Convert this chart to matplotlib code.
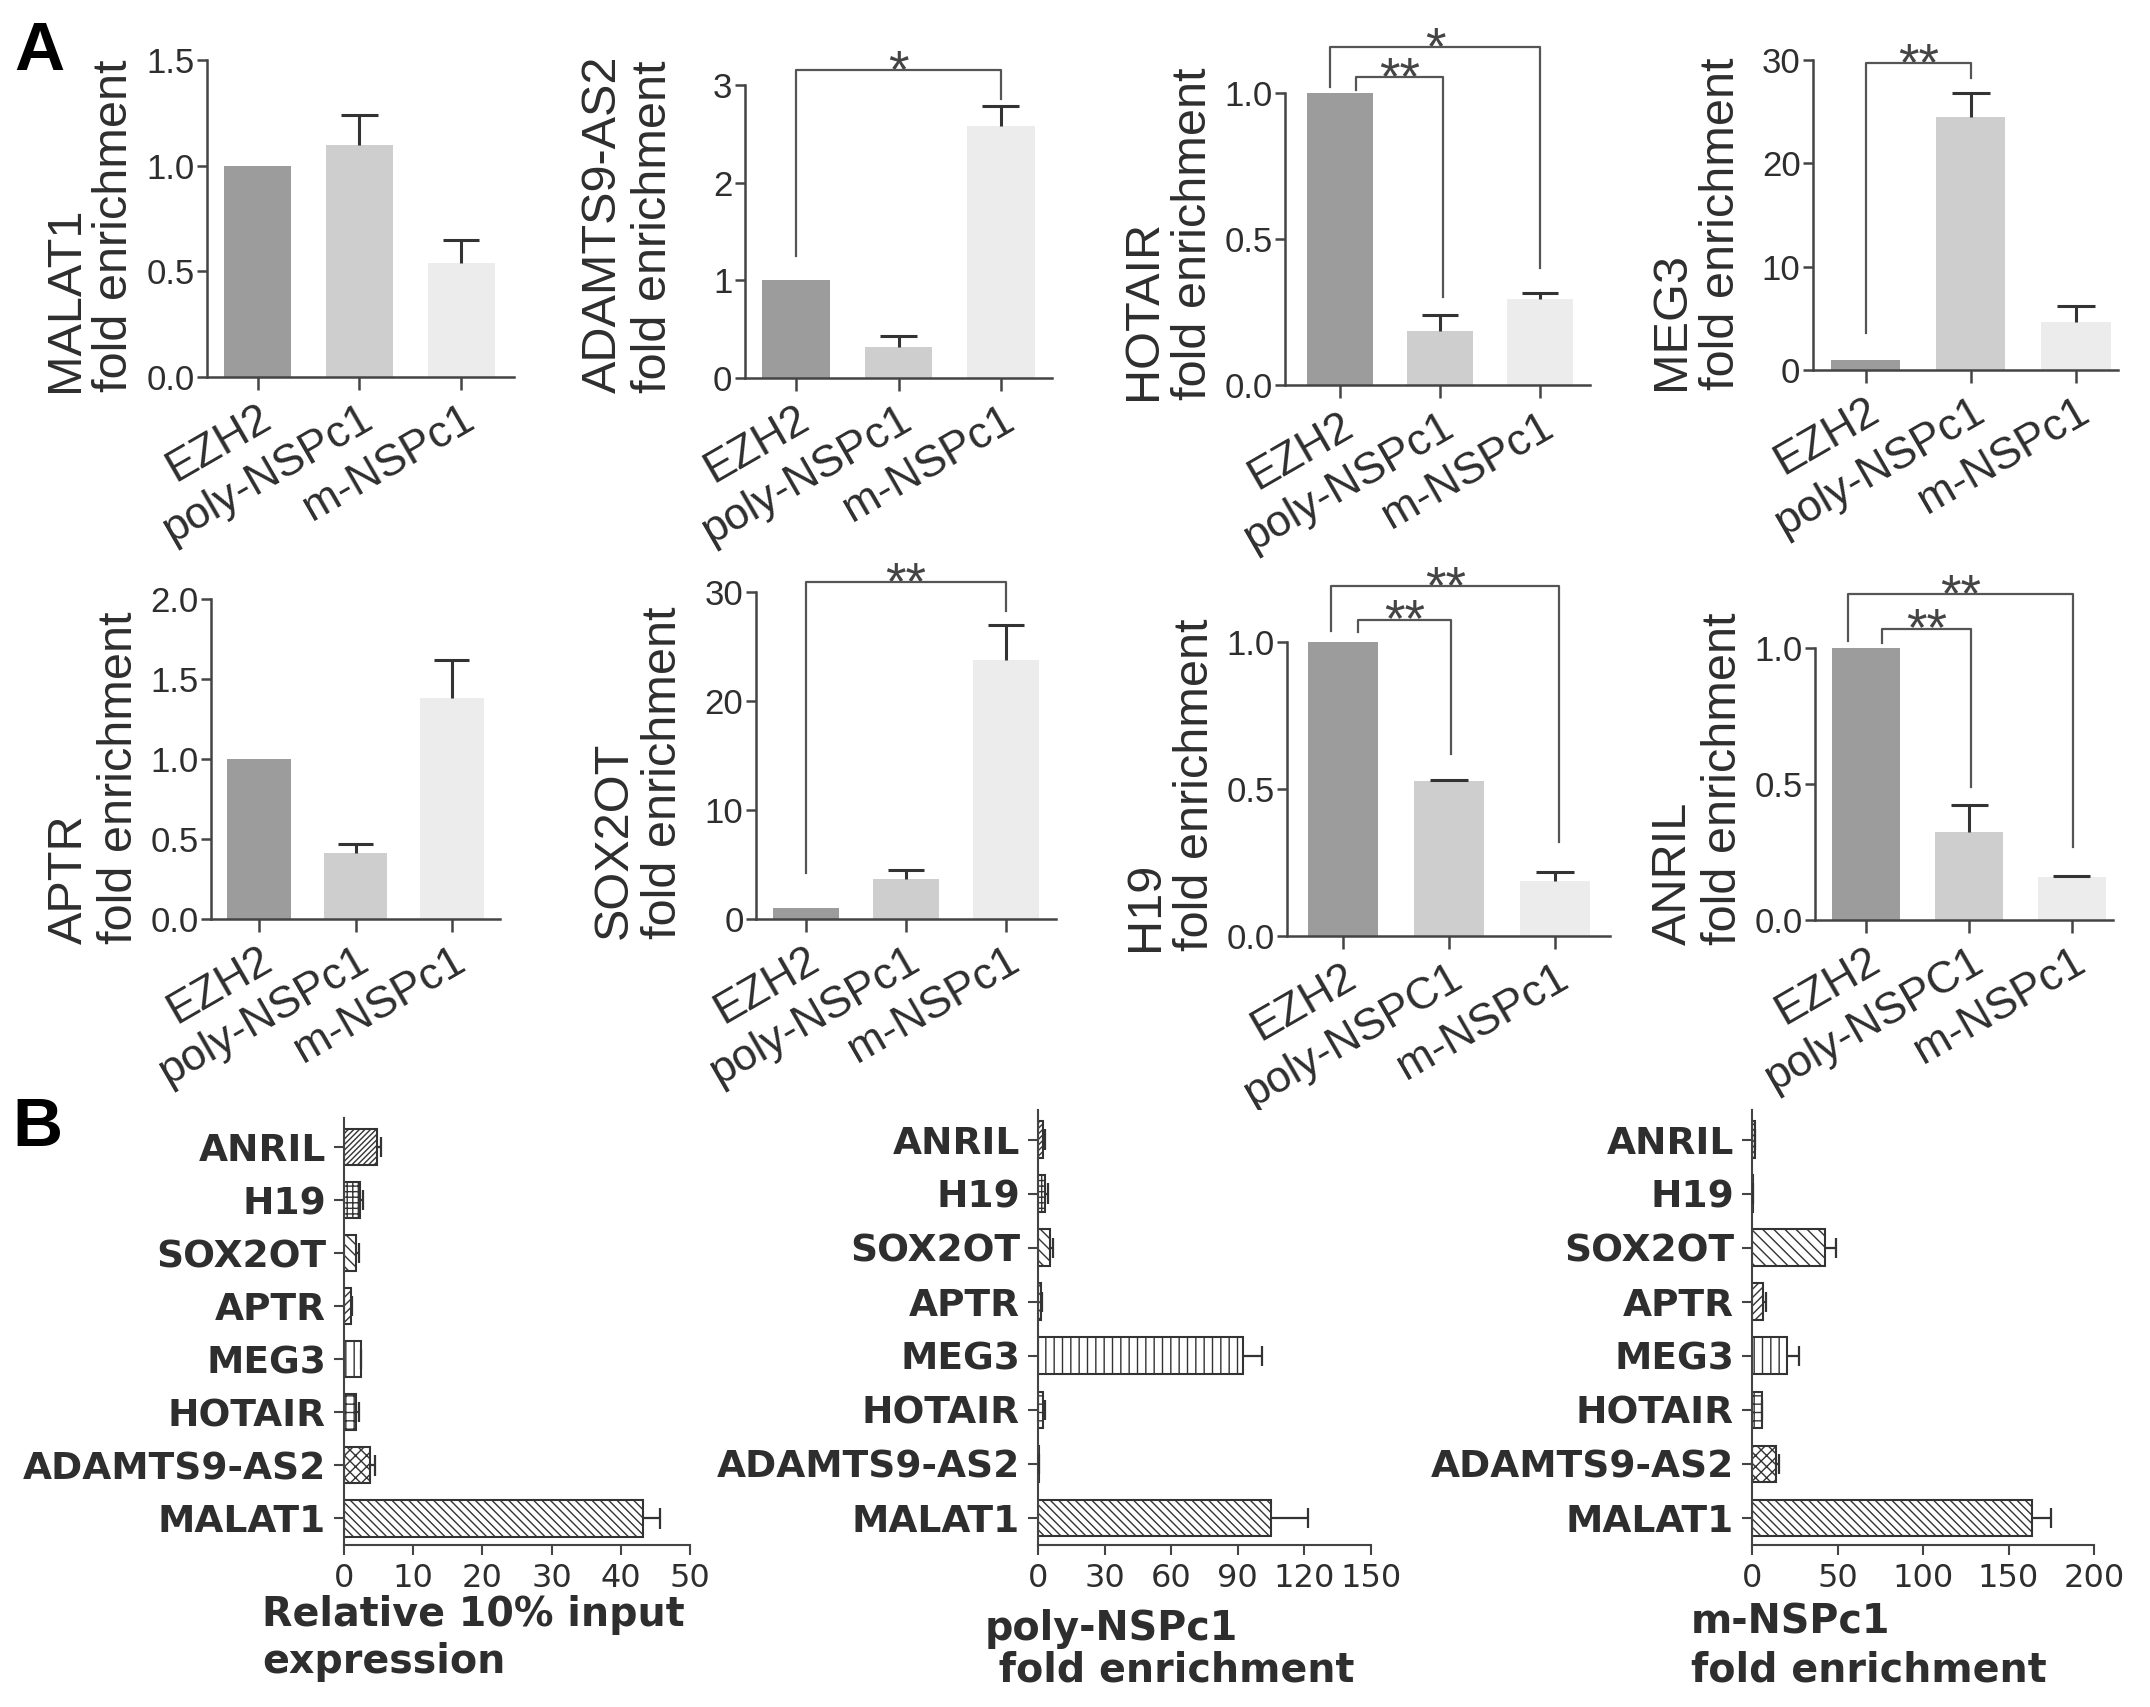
import matplotlib as mpl
mpl.use('Agg')
import matplotlib.pyplot as plt
import numpy as np

plt.rcParams['font.family'] = ['Liberation Sans', 'DejaVu Sans']
plt.rcParams['hatch.color'] = '#333333'
plt.rcParams['hatch.linewidth'] = 1.0

W, H = 2150, 1707
INK = '#2e2e2e'

# ---- panel A data ----
groups = ['EZH2', 'poly-NSPc1', 'm-NSPc1']
groups_cap = ['EZH2', 'poly-NSPC1', 'm-NSPc1']
bar_colors = ['#9c9c9c', '#cecece', '#ececec']

malat1 = [1.0, 1.10, 0.54]
malat1_err = [0.0, 0.14, 0.11]
adamts = [1.0, 0.32, 2.58]
adamts_err = [0.0, 0.11, 0.20]
hotair = [1.0, 0.185, 0.296]
hotair_err = [0.0, 0.055, 0.019]
meg3 = [1.0, 24.5, 4.6]
meg3_err = [0.0, 2.3, 1.6]
aptr = [1.0, 0.41, 1.38]
aptr_err = [0.0, 0.06, 0.24]
sox2ot = [1.0, 3.7, 23.8]
sox2ot_err = [0.0, 0.8, 3.2]
h19 = [1.0, 0.527, 0.187]
h19_err = [0.0, 0.005, 0.032]
anril = [1.0, 0.325, 0.157]
anril_err = [0.0, 0.098, 0.003]

# significance brackets: (x left, x right, top, left end, right end, stars)
adamts_sig = [(0.0, 2.0, 3.15, 1.25, 2.86, '*')]
hotair_sig = [(0.16, 1.03, 1.055, 1.01, 0.30, '**'), (-0.1, 2.0, 1.156, 1.02, 0.40, '*')]
meg3_sig = [(0.0, 1.0, 29.7, 3.6, 28.3, '**')]
sox2ot_sig = [(0.0, 2.0, 30.9, 4.2, 28.3, '**')]
h19_sig = [(0.14, 1.02, 1.076, 1.034, 0.62, '**'), (-0.11, 2.04, 1.19, 1.037, 0.32, '**')]
anril_sig = [(0.15, 1.02, 1.071, 1.018, 0.49, '**'), (-0.18, 2.01, 1.198, 1.024, 0.27, '**')]

# ---- panel B data ----
genes = ['MALAT1', 'ADAMTS9-AS2', 'HOTAIR', 'MEG3', 'APTR', 'SOX2OT', 'H19', 'ANRIL']
hatches = ['\\\\\\\\', 'xxx', '++', '||', '////', '\\\\\\', '+++', '//////']
input_expr = [43.2, 3.7, 1.7, 2.5, 1.0, 1.7, 2.3, 4.8]
input_err = [2.5, 0.8, 0.4, 0.0, 0.1, 0.4, 0.4, 0.5]
poly_fold = [104.9, 0.4, 2.4, 92.5, 1.2, 5.5, 3.3, 2.4]
poly_err = [16.7, 0.1, 0.7, 8.5, 0.4, 1.4, 1.4, 0.9]
m_fold = [163.7, 14.0, 5.6, 20.4, 6.6, 42.9, 0.3, 1.9]
m_err = [11.1, 1.9, 0.5, 6.9, 1.3, 6.1, 0.0, 0.1]

fig = plt.figure(figsize=(W / 100, H / 100), dpi=100)


def px_axes(l, t, r, b):
    return fig.add_axes([l / W, 1 - b / H, (r - l) / W, (b - t) / H])


def style_axes(ax, lw=1.8):
    for s in ['top', 'right']:
        ax.spines[s].set_visible(False)
    for s in ['left', 'bottom']:
        ax.spines[s].set_linewidth(lw)
        ax.spines[s].set_color('#444444')


def bar_panel(box, gene, vals, errs, yticks, ylabels, xlim, labels, sig, lab_drop):
    l, t, r, b = box
    ax = px_axes(l, t, r, b)
    x = np.arange(len(vals))
    ax.bar(x, vals, width=0.66, color=bar_colors, zorder=2)
    # one-sided error bars (upper only), EZH2 is the reference without error
    tops = np.array(vals[1:]) + np.array(errs[1:])
    ax.vlines(x[1:], vals[1:], tops, color='#333333', lw=2.2, zorder=3)
    ax.hlines(tops, x[1:] - 0.18, x[1:] + 0.18, color='#333333', lw=2.2, zorder=3)
    ax.set_xlim(*xlim)
    ax.set_ylim(yticks[0], yticks[-1])
    ax.set_yticks(yticks)
    ax.set_yticklabels(ylabels, fontsize=25, color=INK)
    ax.set_xticks(x)
    ax.set_xticklabels(labels, rotation=30, ha='right', rotation_mode='anchor',
                       fontsize=32, color=INK)
    ax.tick_params(axis='y', length=7, width=1.8, color='#444444', pad=2)
    ax.tick_params(axis='x', length=9, width=1.8, color='#444444', pad=6)
    style_axes(ax)
    for x0, x1, ytop, y0, y1, stars in sig:
        ax.plot([x0, x0, x1, x1], [y0, ytop, ytop, y1], color='#555555', lw=1.6,
                clip_on=False, zorder=4)
        ax.annotate(stars, xy=((x0 + x1) / 2, ytop), xytext=(0, -12),
                    textcoords='offset points', ha='center', va='baseline',
                    fontsize=38, color='#444444', annotation_clip=False)
    # two-line y label, drawn as separate lines
    yb = 1 - (b + lab_drop) / H
    fig.text((l - 142) / W, yb, gene, rotation=90, ha='center', va='bottom',
             fontsize=35, color=INK)
    fig.text((l - 92) / W, yb, 'fold enrichment', rotation=90, ha='center',
             va='bottom', fontsize=35, color=INK)
    return ax


bar_panel((207, 60, 514, 377), 'MALAT1', malat1, malat1_err, [0, 0.5, 1.0, 1.5],
          ['0.0', '0.5', '1.0', '1.5'], (-0.5, 2.52), groups, [], 15)
bar_panel((745, 85, 1052, 378), 'ADAMTS9-AS2', adamts, adamts_err, [0, 1, 2, 3],
          ['0', '1', '2', '3'], (-0.5, 2.5), groups, adamts_sig, 15)
bar_panel((1285, 93, 1590, 385), 'HOTAIR', hotair, hotair_err, [0, 0.5, 1.0],
          ['0.0', '0.5', '1.0'], (-0.55, 2.5), groups, hotair_sig, 15)
bar_panel((1813, 60, 2118, 370), 'MEG3', meg3, meg3_err, [0, 10, 20, 30],
          ['0', '10', '20', '30'], (-0.5, 2.4), groups, meg3_sig, 20)
bar_panel((211, 599, 500, 919), 'APTR', aptr, aptr_err, [0, 0.5, 1.0, 1.5, 2.0],
          ['0.0', '0.5', '1.0', '1.5', '2.0'], (-0.5, 2.5), groups, [], 25)
bar_panel((756, 592, 1056, 919), 'SOX2OT', sox2ot, sox2ot_err, [0, 10, 20, 30],
          ['0', '10', '20', '30'], (-0.5, 2.5), groups, sox2ot_sig, 20)
bar_panel((1287, 642, 1610, 936), 'H19', h19, h19_err, [0, 0.5, 1.0],
          ['0.0', '0.5', '1.0'], (-0.53, 2.52), groups_cap, h19_sig, 15)
bar_panel((1815, 648, 2113, 920), 'ANRIL', anril, anril_err, [0, 0.5, 1.0],
          ['0.0', '0.5', '1.0'], (-0.5, 2.4), groups_cap, anril_sig, 25)


def hbar_panel(box, vals, errs, xticks, xlab1, xlab2, lab_x, lab_y):
    l, t, r, b = box
    ax = px_axes(l, t, r, b)
    y = np.arange(len(genes))
    bars = ax.barh(y, vals, height=0.68, color='white', edgecolor='#333333',
                   linewidth=1.5, zorder=2)
    for bar, h in zip(bars, hatches):
        bar.set_hatch(h)
    # right-sided error bars with a cap at the end only
    ends = np.array(vals) + np.array(errs)
    ax.hlines(y, vals, ends, color='#333333', lw=1.6, zorder=3)
    ax.vlines(ends, y - 0.19, y + 0.19, color='#333333', lw=1.6, zorder=3)
    ax.set_ylim(-0.5, 7.55)
    ax.set_xlim(xticks[0], xticks[-1])
    ax.set_yticks(y)
    ax.set_yticklabels(genes, fontfamily='DejaVu Sans', fontweight='bold',
                       fontsize=27, color=INK)
    ax.set_xticks(xticks)
    ax.set_xticklabels([str(v) for v in xticks], fontfamily='DejaVu Sans',
                       fontsize=23, color=INK)
    ax.tick_params(axis='y', length=7, width=1.5, color='#444444', pad=6)
    ax.tick_params(axis='x', length=7, width=1.5, color='#444444', pad=6)
    style_axes(ax, lw=1.5)
    for line, yy in zip([xlab1, xlab2], lab_y):
        fig.text(lab_x / W, 1 - yy / H, line, ha='left', va='center',
                 fontfamily='DejaVu Sans', fontweight='bold', fontsize=28.5,
                 color=INK)
    return ax


hbar_panel((344, 1118, 690, 1545), input_expr, input_err, [0, 10, 20, 30, 40, 50],
           'Relative 10% input', 'expression', 262, (1615, 1662))
hbar_panel((1038, 1110, 1371, 1545), poly_fold, poly_err, [0, 30, 60, 90, 120, 150],
           'poly-NSPc1', ' fold enrichment', 985, (1629, 1670))
hbar_panel((1752, 1110, 2094, 1545), m_fold, m_err, [0, 50, 100, 150, 200],
           'm-NSPc1', 'fold enrichment', 1691, (1622, 1670))

fig.text(14 / W, 1 - 70 / H, 'A', fontsize=50, fontweight='bold', color='black',
         ha='left', va='baseline')
fig.text(12 / W, 1 - 1146 / H, 'B', fontsize=50, fontweight='bold', color='black',
         ha='left', va='baseline')

fig.savefig('out.png', dpi=100)
